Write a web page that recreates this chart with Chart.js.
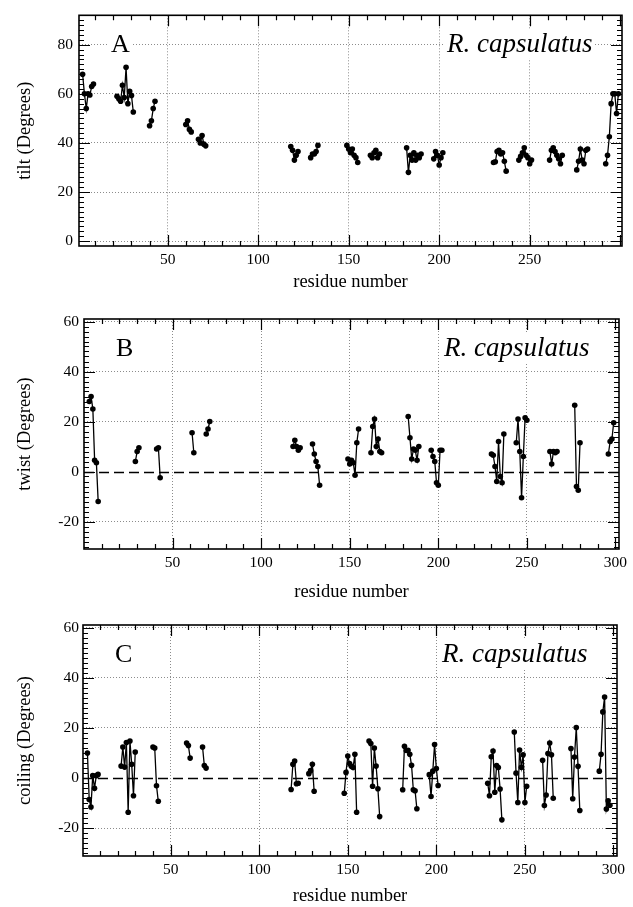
<!DOCTYPE html>
<html><head><meta charset="utf-8">
<script src="https://cdn.jsdelivr.net/npm/chart.js@4"></script>
<style>
html,body{margin:0;padding:0;background:#fff;}
body{width:633px;height:907px;position:relative;overflow:hidden;}
canvas{position:absolute;left:0;}
</style></head><body>
<canvas id="cA" width="633" height="300" style="top:0px"></canvas>
<canvas id="cB" width="633" height="308" style="top:300px"></canvas>
<canvas id="cC" width="633" height="299" style="top:608px"></canvas>
<script>
// ---- data: first residue of each helix segment, and the values along it ----
const xTickValues = [50, 100, 150, 200, 250, 300];

const tiltStarts = [3, 22, 40, 60, 67, 118, 129, 149, 162, 182, 197, 230, 244, 261, 276, 292];
const tiltSegments = [
  [68, 60, 54, 60, 59.5, 63, 64],
  [59, 58, 57, 63.5, 58.5, 70.8, 56, 61, 59.3, 52.6],
  [47, 49, 54, 57],
  [47.5, 49, 45.5, 44.5],
  [41.5, 40, 43, 39.5, 38.8],
  [38.5, 37, 33, 35, 36.5],
  [34, 35.5, 35.5, 36.5, 39],
  [39, 37.5, 36, 37.5, 35, 34, 32],
  [35, 34, 36, 37, 34, 35.5],
  [38, 28, 35, 33, 36, 33, 35, 34, 35.5],
  [33.5, 36.5, 35, 31, 34, 36],
  [32, 32.3, 36.5, 37, 35.5, 36, 32.5, 28.5],
  [33, 34.5, 36, 38, 35, 34, 31.5, 33],
  [33, 37, 38, 36.5, 35, 33.5, 31.5, 35],
  [29, 32.5, 37.5, 33, 31.5, 37, 37.5],
  [31.5, 35, 42.5, 56, 60, 60, 52, 60]
];
const tiltTicks = [0, 20, 40, 60, 80];

const twistStarts = [3, 29, 41, 61, 69, 118, 129, 149, 162, 183, 196, 230, 244, 263, 277, 296];
const twistSegments = [
  [28, 30, 25, 4.5, 3.5, -12],
  [4, 8, 9.5],
  [9, 9.5, -2.5],
  [15.5, 7.5],
  [15, 17, 20],
  [10, 12.5, 10, 8.5, 9.5],
  [11, 7, 4, 2, -5.5],
  [5, 3, 4.5, 3.5, -1.5, 11.5, 17],
  [7.5, 18, 21, 10, 13, 8, 7.5],
  [22, 13.5, 5, 9, 8.5, 4.5, 10],
  [8.5, 6, 4, -4.5, -5.5, 8.5, 8.5],
  [7, 6.5, 2, -4, 12, -2, -4.5, 15],
  [11.5, 21, 8, -10.5, 6, 21.5, 20.5],
  [8, 3, 8, 7.5, 8],
  [26.5, -6, -7.5, 11.5],
  [7, 12, 13, 19.5]
];

const coilStarts = [3, 22, 40, 59, 68, 118, 128, 148, 162, 181, 196, 229, 244, 260, 276, 292];
const coilSegments = [
  [10, -8.5, -11.5, 1, -4, 1, 1.5],
  [4.8, 12.4, 4.4, 14.2, -13.6, 14.8, 5.5, -7, 10.4],
  [12.4, 12, -3, -9.2],
  [14, 13, 8],
  [12.4, 5, 4],
  [-4.5, 5.5, 6.8, -2.2, -2],
  [1.8, 3, 5.5, -5.2],
  [-6, 2.3, 8.8, 5.8, 4.7, 4.2, 9.5, -13.6],
  [14.8, 13.8, -3.2, 12, 4.8, -4.2, -15.3],
  [-4.6, 12.7, 11, 11.1, 9.5, 5.1, -4.6, -5, -12.2],
  [1.4, -7.3, 2.8, 13.4, 3.8, -2.9],
  [-2, -7, 8.5, 10.8, -5.6, 5, 4.2, -4.3, -16.6],
  [18.4, 2, -9.7, 11.2, 4.3, 9.3, -9.7, -3.2],
  [7.1, -10.9, -6.7, 9.8, 14, 9.3, -8],
  [11.8, -8.2, 8.4, 20.2, 4.7, -12.9],
  [2.8, 9.5, 26.4, 32.3, -12.3, -9, -10.8]
];
const angleTicks = [-20, 0, 20, 40, 60];

// ---- build {x,y} points with gaps between segments ----
function toPoints(starts, segs) {
  const pts = [];
  segs.forEach((vals, i) => {
    if (i > 0) pts.push({x: starts[i] - 0.5, y: null});
    vals.forEach((v, j) => pts.push({x: starts[i] + j, y: v}));
  });
  return pts;
}

const SERIF = '"Liberation Serif", "Times New Roman", serif';
const GRID = '#8c8c8c';

function decorPlugin(cfg) {
  return {
    id: 'decor',
    beforeDatasetsDraw(chart) {
      const {ctx, chartArea: a, scales: {y}} = chart;
      ctx.save();
      if (cfg.zeroLine) {
        const py = Math.round(y.getPixelForValue(0)) + 0.5;
        ctx.strokeStyle = '#000'; ctx.lineWidth = 1.3; ctx.setLineDash([10, 5]);
        ctx.beginPath(); ctx.moveTo(a.left, py); ctx.lineTo(a.right, py); ctx.stroke();
        ctx.setLineDash([]);
      }
      ctx.fillStyle = '#000';
      ctx.textBaseline = 'alphabetic';
      ctx.font = '26px ' + SERIF;
      ctx.textAlign = 'left';
      const lx = a.left + 32, ly = a.top + 36.5;
      const lw = ctx.measureText(cfg.letter).width;
      ctx.fillStyle = '#fff'; ctx.fillRect(lx - 2, ly - 21, lw + 4, 25);
      ctx.fillStyle = '#000'; ctx.fillText(cfg.letter, lx, ly);
      ctx.font = 'italic 27px ' + SERIF;
      ctx.textAlign = 'right';
      const rx = a.right - 29.5;
      const rw = ctx.measureText('R. capsulatus').width;
      ctx.fillStyle = '#fff'; ctx.fillRect(rx - rw - 2, ly - 22, rw + 4, 29);
      ctx.fillStyle = '#000'; ctx.fillText('R. capsulatus', rx, ly);
      ctx.restore();
    },
    afterDraw(chart) {
      const {ctx, chartArea: a, scales: {x, y}} = chart;
      ctx.save();
      ctx.strokeStyle = '#000';
      ctx.lineWidth = 1.2;
      ctx.beginPath();
      for (let v = Math.ceil(x.min / 10) * 10; v <= x.max; v += 10) {
        const px = Math.round(x.getPixelForValue(v)) + 0.5;
        if (px <= a.left + 1 || px >= a.right - 1) continue;
        const len = (v % 50 === 0) ? 11 : 5;
        ctx.moveTo(px, a.bottom); ctx.lineTo(px, a.bottom - len);
        ctx.moveTo(px, a.top); ctx.lineTo(px, a.top + len);
      }
      for (let v = Math.ceil(y.min / 2) * 2; v <= y.max; v += 2) {
        const py = Math.round(y.getPixelForValue(v)) + 0.5;
        if (py <= a.top + 1 || py >= a.bottom - 1) continue;
        const len = (v % 20 === 0) ? 11 : 5;
        ctx.moveTo(a.left, py); ctx.lineTo(a.left + len, py);
        ctx.moveTo(a.right, py); ctx.lineTo(a.right - len, py);
      }
      ctx.stroke();
      ctx.lineWidth = 1.6;
      ctx.strokeRect(a.left, a.top, a.right - a.left, a.bottom - a.top);
      ctx.restore();
    }
  };
}

function makePanel(id, cfg) {
  const canvas = document.getElementById(id);
  const H = canvas.height;
  return new Chart(canvas, {
    type: 'line',
    data: {
      datasets: [{
        data: toPoints(cfg.starts, cfg.segments),
        borderColor: '#000', backgroundColor: '#000',
        borderWidth: 1.3, pointRadius: 2.8, pointHoverRadius: 2.8,
        pointBorderWidth: 0, spanGaps: false, tension: 0, fill: false
      }]
    },
    options: {
      responsive: false, animation: false, devicePixelRatio: 1,
      events: [],
      layout: {padding: {left: 0, top: cfg.top, right: 633 - cfg.right, bottom: 0}},
      plugins: {legend: {display: false}, tooltip: {enabled: false}},
      scales: {
        x: {
          type: 'linear', min: cfg.xmin, max: cfg.xmax,
          afterBuildTicks: s => { s.ticks = xTickValues.map(v => ({value: v})); },
          afterFit: s => { s.height = H - cfg.bottom; },
          ticks: {
            callback: v => (cfg.hide300 && v === 300) ? '' : String(v),
            font: {family: SERIF, size: 15.5}, color: '#000', padding: 5,
            maxRotation: 0, autoSkip: false
          },
          grid: {color: c => (c.tick && c.tick.value === 300) ? 'rgba(0,0,0,0)' : GRID, lineWidth: 1, drawTicks: false},
          border: {display: false, dash: [1, 2]},
          title: {display: true, text: 'residue number', color: '#000',
                  font: {family: SERIF, size: 18.5}, padding: {top: 0, bottom: cfg.xTitlePad}}
        },
        y: {
          type: 'linear', min: cfg.ymin, max: cfg.ymax,
          afterBuildTicks: s => { s.ticks = cfg.yticks.map(v => ({value: v})); },
          afterFit: s => { s.width = cfg.left; },
          ticks: {font: {family: SERIF, size: 15.5}, color: '#000', padding: cfg.yTickPad},
          grid: {color: c => (cfg.zeroLine && c.tick && c.tick.value === 0) ? 'rgba(0,0,0,0)' : GRID, lineWidth: 1, drawTicks: false},
          border: {display: false, dash: [1, 2]},
          title: {display: true, text: cfg.ytitle, color: '#000',
                  font: {family: SERIF, size: 18.5}, padding: {top: 13.9, bottom: 0}}
        }
      }
    },
    plugins: [decorPlugin(cfg)]
  });
}

makePanel('cA', {
  starts: tiltStarts, segments: tiltSegments, yticks: tiltTicks,
  ytitle: 'tilt (Degrees)', letter: 'A', zeroLine: false, hide300: true,
  xmin: 1, xmax: 301, ymin: -2, ymax: 92,
  left: 79, right: 622, top: 13, bottom: 246, xTitlePad: 6.9, yTickPad: 6
});
makePanel('cB', {
  starts: twistStarts, segments: twistSegments, yticks: angleTicks,
  ytitle: 'twist (Degrees)', letter: 'B', zeroLine: true, hide300: false,
  xmin: 0, xmax: 302, ymin: -31, ymax: 61,
  left: 84, right: 619, top: 19, bottom: 249, xTitlePad: 4.9, yTickPad: 5
});
makePanel('cC', {
  starts: coilStarts, segments: coilSegments, yticks: angleTicks,
  ytitle: 'coiling (Degrees)', letter: 'C', zeroLine: true, hide300: false,
  xmin: 0.5, xmax: 302, ymin: -31, ymax: 61,
  left: 83, right: 617, top: 17, bottom: 248, xTitlePad: 0, yTickPad: 4
});
</script>
</body></html>
